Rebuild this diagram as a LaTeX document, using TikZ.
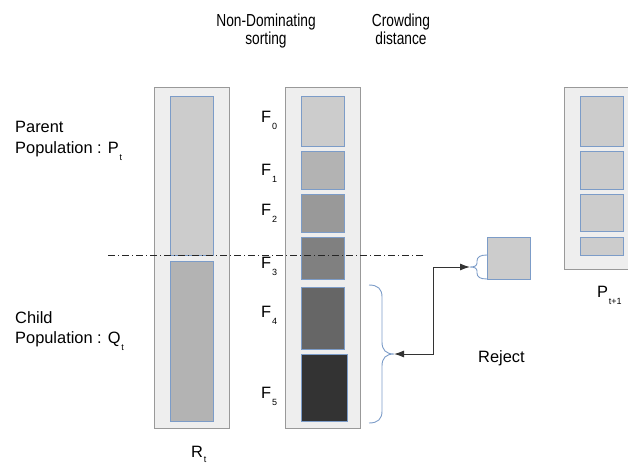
\documentclass[tikz,border=0pt]{standalone}
\usepackage{fontspec}
\setmainfont{Liberation Sans}
\newfontfamily\narrowfont[FakeStretch=0.79]{Liberation Sans}
\usetikzlibrary{arrows.meta}
\definecolor{outerfill}{HTML}{EEEEEE}
\definecolor{outerline}{HTML}{999999}
\definecolor{innerline}{HTML}{7C9CC8}
\definecolor{gA}{HTML}{CCCCCC}
\definecolor{gB}{HTML}{B3B3B3}
\definecolor{gC}{HTML}{999999}
\definecolor{gD}{HTML}{808080}
\definecolor{gE}{HTML}{666666}
\definecolor{gF}{HTML}{333333}
\newcommand{\subtxt}[2]{#1\kern0.8pt\raisebox{-7.5pt}{\fontsize{9}{9}\selectfont #2}}
\newcommand{\subtxtb}[2]{#1\kern0.8pt\raisebox{-5pt}{\fontsize{9}{9}\selectfont #2}}
\begin{document}
\begin{tikzpicture}[x=1pt,y=-1pt,
  outerbox/.style={draw=outerline,fill=outerfill,line width=1pt,minimum width=75pt,inner sep=0pt},
  innerbox/.style={draw=innerline,line width=0.9pt,minimum width=43pt,inner sep=0pt},
  txt/.style={font=\fontsize{16.4}{19}\selectfont,inner sep=0pt,anchor=base west},
  head/.style={font=\narrowfont\fontsize{17.4}{18}\selectfont,inner sep=0pt,anchor=north,align=center},
  bracestyle/.style={draw=innerline,line width=0.9pt},
  conn/.style={draw=black!80,line width=1pt,{Latex[length=10pt,width=7pt]}-{Latex[length=10pt,width=7pt]}}
]
\useasboundingbox (0,0) rectangle (628,466);
\clip (0,0) rectangle (628,466);

% headers
\node[head] (hnd) at (266,14) {Non-Dominating\\sorting};
\node[head] (hcd) at (401,14) {Crowding\\distance};

% R_t column
\node[outerbox,minimum height=341pt] (R) at (192,257.5) {};
\node[innerbox,fill=gA,minimum height=159pt] (Rp) at (191.5,175.5) {};
\node[innerbox,fill=gB,minimum height=160pt] (Rq) at (191.5,341) {};

% sorted column
\node[outerbox,minimum height=341pt] (S) at (322.5,257.5) {};
\node[innerbox,fill=gA,minimum height=50pt] (F0) at (322.5,121) {};
\node[innerbox,fill=gB,minimum height=38pt] (F1) at (322.5,170) {};
\node[innerbox,fill=gC,minimum height=38pt] (F2) at (322.5,213) {};
\node[innerbox,fill=gD,minimum height=42pt] (F3) at (322.5,258) {};
\node[innerbox,fill=gE,minimum height=62pt] (F4) at (322.5,318) {};
\node[innerbox,fill=gF,minimum width=46pt,minimum height=67pt] (F5) at (324,387.5) {};

% P_{t+1} column
\node[outerbox,minimum height=182pt] (P) at (601.5,178) {};
\node[innerbox,fill=gA,minimum height=50pt] (P0) at (601.5,121) {};
\node[innerbox,fill=gA,minimum height=38pt] (P1) at (601.5,170) {};
\node[innerbox,fill=gA,minimum height=37pt] (P2) at (601.5,212.5) {};
\node[innerbox,fill=gA,minimum height=18pt] (P3) at (601.5,246) {};

% crowding distance box
\node[innerbox,fill=gA,minimum height=42pt] (C) at (508.5,258) {};

% F labels
\node[txt] (l0) at (261,122) {\subtxt{F}{0}};
\node[txt] (l1) at (261,175) {\subtxt{F}{1}};
\node[txt] (l2) at (261,215) {\subtxt{F}{2}};
\node[txt] (l3) at (261,268) {\subtxt{F}{3}};
\node[txt] (l4) at (261,317) {\subtxt{F}{4}};
\node[txt] (l5) at (261,398) {\subtxt{F}{5}};

% side labels
\node[txt] (par1) at (15,132) {Parent};
\node[txt] (par2) at (15,153) {\subtxt{Population : P}{t}};
\node[txt] (chi1) at (15,323) {Child};
\node[txt] (chi2) at (15,343) {\subtxt{Population : Q}{t}};
\node[txt] (rt) at (191,457) {\subtxtb{R}{t}};
\node[txt] (pt1) at (597,297) {\subtxt{P}{t+1}};
\node[txt] (rej) at (478,362) {Reject};

% dash-dot line
\coordinate (dl) at (108,255);
\coordinate (dr) at (423,255);
\draw[black!85,line width=0.8pt,dash pattern=on 7pt off 3pt on 1pt off 3pt] (dl) -- (dr);

% big brace
\coordinate (bt) at (394,354);
\draw[bracestyle] (369,285) .. controls (378,285) and (382,289) .. (382,297) -- (382,342)
  .. controls (382,350) and (386,354) .. (bt)
  .. controls (386,354) and (382,358) .. (382,366) -- (382,411)
  .. controls (382,419) and (378,423) .. (369,423);

% small brace
\coordinate (st) at (470,267);
\draw[bracestyle] (487,255) .. controls (480,255) and (477,257) .. (477,261) -- (477,263)
  .. controls (477,266) and (474,267) .. (st)
  .. controls (474,267) and (477,268) .. (477,271) -- (477,273)
  .. controls (477,277) and (480,279) .. (487,279);

% connector
\draw[conn] (bt) -- (433,354) |- (st);
\end{tikzpicture}
\end{document}
